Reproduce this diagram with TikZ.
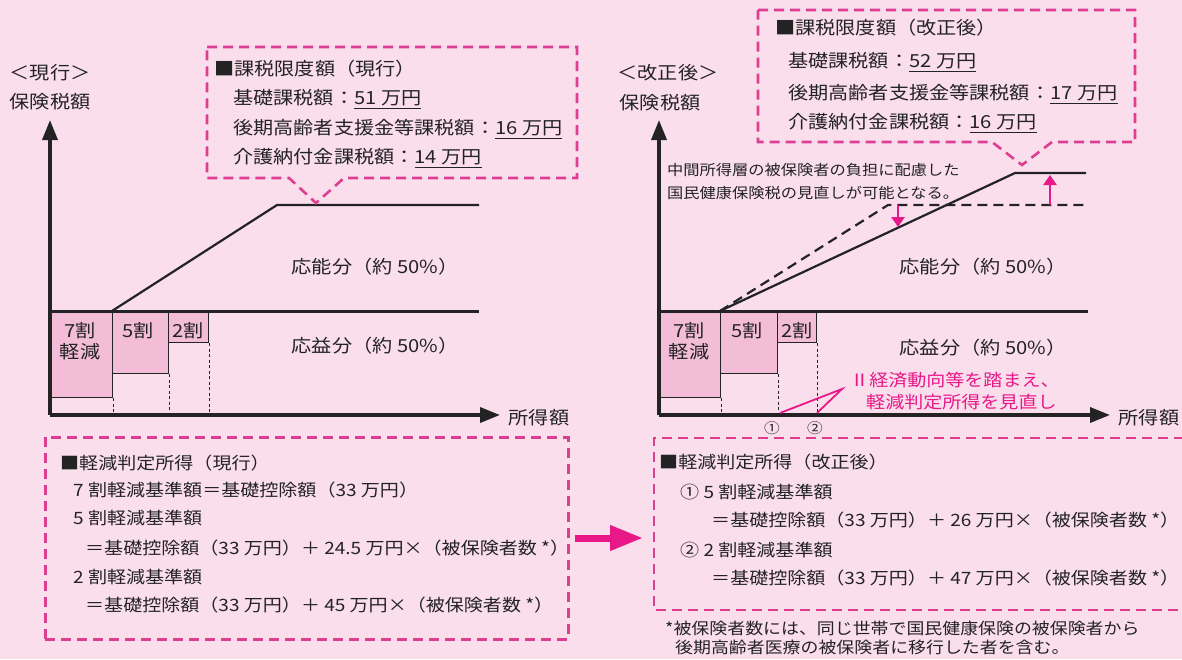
\documentclass[tikz,border=0pt]{standalone}
\usepackage{fontspec}
\setmainfont{Noto Sans CJK JP}[FakeStretch=1.12]
\usetikzlibrary{arrows.meta}

\definecolor{bgpink}{RGB}{250,222,236}
\definecolor{boxpink}{RGB}{243,188,215}
\definecolor{dashpink}{RGB}{222,62,146}
\definecolor{hotpink}{RGB}{232,24,136}
\definecolor{ink}{RGB}{35,35,35}

\begin{document}
\begin{tikzpicture}
        [x=1pt,y=-1pt,
         txt/.style={inner sep=0pt, text=ink, font=\fontsize{18}{21}\selectfont},
         boxtxt/.style={txt, anchor=west},
         lowtxt/.style={boxtxt, font=\fontsize{17}{20}\selectfont},
         note/.style={boxtxt, font=\fontsize{14.5}{17}\selectfont},
         pinktxt/.style={boxtxt, text=hotpink, font=\fontsize{17}{20}\selectfont},
         axisln/.style={draw=ink, line width=3.5pt, -{Triangle[length=20pt,width=15pt]}},
         flatln/.style={draw=ink, line width=3pt},
         slopeln/.style={draw=ink, line width=2.2pt},
         oldln/.style={slopeln, dash pattern=on 10pt off 6pt},
         ratebox/.style={draw=ink, line width=1.2pt, fill=boxpink, anchor=north west, inner sep=0pt},
         tickln/.style={draw=ink, line width=1.3pt, dash pattern=on 3pt off 2.5pt},
         dashbox/.style={draw=dashpink, line width=2.6pt, dash pattern=on 10pt off 6pt},
         pinkarr/.style={draw=hotpink, line width=2.5pt, -{Triangle[length=10pt,width=13pt]}},
         pinkln/.style={draw=hotpink, line width=1.8pt},
         bigarr/.style={draw=hotpink, line width=7pt, -{Triangle[length=33pt,width=24pt]}}]
        \useasboundingbox (0,0) rectangle (1182,659);
        \fill[bgpink] (0,0) rectangle (1182,659);
        %\draw[help lines, step=50pt] (0,0) grid (1182,659);

        % current (left)
        \node[txt] (lhead) at (50,73) {＜現行＞};
        \node[txt] (lyname) at (50,102) {保険税額};
        \coordinate (lo) at (50,415);
        \coordinate (ltop) at (50,120);
        \coordinate (lend) at (500,415);
        \node[ratebox, minimum width=62pt, minimum height=86pt] (l7) at (50,311) {};
        \node[ratebox, minimum width=56pt, minimum height=62pt] (l5) at (112,311) {};
        \node[ratebox, minimum width=40pt, minimum height=31pt] (l2) at (168,311) {};
        \node[txt] (l7a) at (80,331) {7割};
        \node[txt] (l7b) at (80,352) {軽減};
        \node[txt] (l5a) at (138,331) {5割};
        \node[txt] (l2a) at (188,331) {2割};
        \draw[tickln] (l7.south east) -- (l7.south east |- lo);
        \draw[tickln] (l5.south east) -- (l5.south east |- lo);
        \draw[tickln] (l2.south east) -- (l2.south east |- lo);
        \draw[flatln] (50,311) -- (479,311);
        \draw[slopeln] (112,311) -- (277,205) -- (479,205);
        \draw[axisln] (lo) -- (ltop);
        \draw[axisln] (lo) -- (lend);
        \node[txt] (lxname) at (539,418) {所得額};
        \node[txt] (lable) at (375,267) {応能分（約 50\%）};
        \node[txt] (lbenefit) at (375,346) {応益分（約 50\%）};

        \draw[dashbox] (207,47) -- (577,47) -- (577,178) -- (344,178) -- (316,203)
          -- (289,178) -- (207,178) -- cycle;
        \node[boxtxt] (lcap0) at (214,69) {■課税限度額（現行）};
        \node[boxtxt] (lcap1) at (233,99) {基礎課税額：\underline{51 万円}};
        \node[boxtxt] (lcap2) at (233,129) {後期高齢者支援金等課税額：\underline{16 万円}};
        \node[boxtxt] (lcap3) at (233,158) {介護納付金課税額：\underline{14 万円}};

        \node[dashbox, minimum width=523pt, minimum height=202pt, anchor=north west] (lbox) at (44,436) {};
        \node[lowtxt] (lrule0) at (60,463) {■軽減判定所得（現行）};
        \node[lowtxt] (lrule1) at (73,490) {7 割軽減基準額＝基礎控除額（33 万円）};
        \node[lowtxt] (lrule2) at (73,518) {5 割軽減基準額};
        \node[lowtxt] (lrule3) at (85,548) {＝基礎控除額（33 万円）＋ 24.5 万円×（被保険者数 *）};
        \node[lowtxt] (lrule4) at (73,577) {2 割軽減基準額};
        \node[lowtxt] (lrule5) at (85,605) {＝基礎控除額（33 万円）＋ 45 万円×（被保険者数 *）};

        \coordinate (arrs) at (575,538);
        \coordinate (arre) at (643,538);
        \draw[bigarr] (arrs) -- (arre);

        % revised (right)
        \node[txt] (rhead) at (668,73) {＜改正後＞};
        \node[txt] (ryname) at (660,103) {保険税額};
        \coordinate (ro) at (659,415);
        \coordinate (rtop) at (659,120);
        \coordinate (rend) at (1110,415);
        \node[ratebox, minimum width=61pt, minimum height=86pt] (r7) at (659,311) {};
        \node[ratebox, minimum width=57pt, minimum height=62pt] (r5) at (720,311) {};
        \node[ratebox, minimum width=39pt, minimum height=31pt] (r2) at (777,311) {};
        \node[txt] (r7a) at (689,331) {7割};
        \node[txt] (r7b) at (689,352) {軽減};
        \node[txt] (r5a) at (747,331) {5割};
        \node[txt] (r2a) at (797,331) {2割};
        \draw[tickln] (r7.south east) -- (r7.south east |- ro);
        \draw[tickln] (r5.south east) -- (r5.south east |- ro);
        \draw[tickln] (r2.south east) -- (r2.south east |- ro);
        \draw[flatln] (659,311) -- (1088,311);
        \draw[oldln] (720,311) -- (888,205) -- (1088,205);
        \draw[slopeln] (720,311) -- (1015,173) -- (1086,173);
        \coordinate (dn0) at (898,205);
        \coordinate (dn1) at (898,227);
        \coordinate (up0) at (1050,205);
        \coordinate (up1) at (1050,175);
        \draw[pinkarr] (dn0) -- (dn1);
        \draw[pinkarr] (up0) -- (up1);
        \draw[axisln] (ro) -- (rtop);
        \draw[axisln] (ro) -- (rend);
        \node[txt] (rxname) at (1149,418) {所得額};
        \node[txt] (rable) at (983,267) {応能分（約 50\%）};
        \node[txt] (rbenefit) at (983,348) {応益分（約 50\%）};
        \node[note] (rnote1) at (667,170) {中間所得層の被保険者の負担に配慮した};
        \node[note] (rnote2) at (667,193) {国民健康保険税の見直しが可能となる。};

        \node[pinktxt] (rpink1) at (850,380) {Ⅱ経済動向等を踏まえ、};
        \node[pinktxt] (rpink2) at (866,402) {軽減判定所得を見直し};
        \node[txt, font=\fontsize{14}{16}\selectfont] (c1) at (772,428) {①};
        \node[txt, font=\fontsize{14}{16}\selectfont] (c2) at (815,428) {②};
        \coordinate (p1) at (780,413);
        \coordinate (p2) at (817,413);
        \coordinate (pm) at (842,389);
        \draw[pinkln] (p1) -- (pm) -- (p2);

        \draw[dashbox] (758,10) -- (1135,10) -- (1135,142) -- (1052,142) -- (1022,165)
          -- (992,142) -- (758,142) -- cycle;
        \node[boxtxt] (rcap0) at (775,28) {■課税限度額（改正後）};
        \node[boxtxt] (rcap1) at (788,62) {基礎課税額：\underline{52 万円}};
        \node[boxtxt] (rcap2) at (788,94) {後期高齢者支援金等課税額：\underline{17 万円}};
        \node[boxtxt] (rcap3) at (788,123) {介護納付金課税額：\underline{16 万円}};

        \draw[dashbox] (1184,438) -- (654,438) -- (654,610) -- (1184,610);
        \node[lowtxt] (rrule0) at (659,462) {■軽減判定所得（改正後）};
        \node[lowtxt] (rrule1) at (680,492) {① 5 割軽減基準額};
        \node[lowtxt] (rrule2) at (711,520) {＝基礎控除額（33 万円）＋ 26 万円×（被保険者数 *）};
        \node[lowtxt] (rrule3) at (680,550) {② 2 割軽減基準額};
        \node[lowtxt] (rrule4) at (711,578) {＝基礎控除額（33 万円）＋ 47 万円×（被保険者数 *）};
        \node[lowtxt, font=\fontsize{16}{19}\selectfont] (rfoot1) at (665,628) {*被保険者数には、同じ世帯で国民健康保険の被保険者から};
        \node[lowtxt, font=\fontsize{16}{19}\selectfont] (rfoot2) at (675,647) {後期高齢者医療の被保険者に移行した者を含む。};
      \end{tikzpicture}
\end{document}
